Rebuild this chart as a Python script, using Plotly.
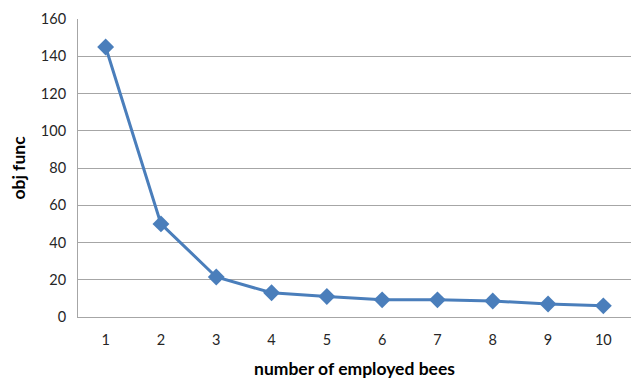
import plotly.graph_objects as go

# number of employed bees vs objective function value
bees = [1, 2, 3, 4, 5, 6, 7, 8, 9, 10]
obj_func = [145, 50, 21.5, 13, 11, 9.2, 9.2, 8.6, 7, 6]
y_ticks = [0, 20, 40, 60, 80, 100, 120, 140, 160]

line_color = "#4A7EBB"
grid_color = "#A6A6A6"
font_family = "Lato, 'Open Sans', sans-serif"

fig = go.Figure(
    go.Scatter(
        x=bees,
        y=obj_func,
        mode="lines+markers",
        line=dict(color=line_color, width=3),
        marker=dict(symbol="diamond", size=13, color=line_color),
        showlegend=False,
    )
)

fig.update_layout(
    width=631,
    height=379,
    margin=dict(l=78, r=0, t=19, b=62),
    paper_bgcolor="white",
    plot_bgcolor="white",
    font=dict(family=font_family, size=14.5, color="#262626"),
)

fig.update_xaxes(
    range=[0.5, 10.5],
    tickvals=bees,
    ticktext=[str(b) for b in bees],
    showgrid=False,
    showline=True,
    linecolor=grid_color,
    linewidth=1,
    ticks="",
    ticklabelstandoff=10,
    title=dict(
        text="<b>number of employed bees</b>",
        font=dict(size=17.5, color="#000000"),
        standoff=17,
    ),
    zeroline=False,
)

fig.update_yaxes(
    range=[0, 160],
    tickvals=y_ticks,
    showgrid=True,
    gridcolor=grid_color,
    gridwidth=1,
    showline=True,
    linecolor=grid_color,
    linewidth=1,
    ticks="",
    ticklabelstandoff=8,
    title=dict(
        text="<b>obj func</b>",
        font=dict(size=17.5, color="#000000"),
        standoff=10,
    ),
    zeroline=False,
)

fig.write_html("out.html")
